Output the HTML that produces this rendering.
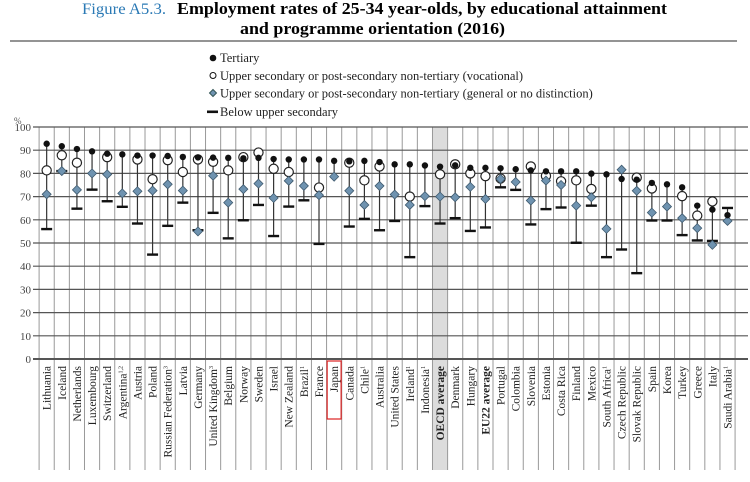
<!DOCTYPE html>
<html><head><meta charset="utf-8"><style>
body{margin:0;background:#fff;}
svg{display:block;font-family:"Liberation Serif",serif;}
</style></head><body>
<svg id="chart" width="750" height="482" viewBox="0 0 750 482">
<text x="82" y="14" font-size="16" fill="#2a79b5" textLength="84" lengthAdjust="spacingAndGlyphs">Figure A5.3.</text>
<text x="177" y="14" font-size="16.5" font-weight="bold" textLength="490" lengthAdjust="spacingAndGlyphs">Employment rates of 25-34 year-olds, by educational attainment</text>
<text x="240" y="34" font-size="16.5" font-weight="bold" textLength="265" lengthAdjust="spacingAndGlyphs">and programme orientation (2016)</text>
<line x1="10" y1="41" x2="737" y2="41" stroke="#555" stroke-width="1.3"/>
<g font-size="12.5" fill="#222">
<g><circle cx="213" cy="58" r="3.3" fill="#111"/><text x="220" y="62">Tertiary</text></g>
<g><circle cx="213" cy="75.5" r="3" fill="#fff" stroke="#111"/><text x="220" y="80">Upper secondary or post-secondary non-tertiary (vocational)</text></g>
<g><path d="M213 89.5 l3.5 3.5 l-3.5 3.5 l-3.5 -3.5z" fill="#6f93b0" stroke="#355"/><text x="220" y="97.5">Upper secondary or post-secondary non-tertiary (general or no distinction)</text></g>
<g><rect x="207" y="110.5" width="11" height="2.6" fill="#111"/><text x="220" y="116">Below upper secondary</text></g>
</g>
<text x="14" y="124" font-size="9" fill="#555">%</text>
<g id="plot"></g>
</svg>
<script>
const categories=["Lithuania","Iceland","Netherlands","Luxembourg","Switzerland","Argentina","Austria","Poland","Russian Federation","Latvia","Germany","United Kingdom","Belgium","Norway","Sweden","Israel","New Zealand","Brazil","France","Japan","Canada","Chile","Australia","United States","Ireland","Indonesia","OECD average","Denmark","Hungary","EU22 average","Portugal","Colombia","Slovenia","Estonia","Costa Rica","Finland","Mexico","South Africa","Czech Republic","Slovak Republic","Spain","Korea","Turkey","Greece","Italy","Saudi Arabia"];
const superscripts=["","","","","","1,2","","","3","","","3","","","","","","1","","","","1","","","1","1","","","","","","","","","","","","1","","","","","","","","1"];
const tertiary=[92.8,91.7,90.5,89.5,88.5,88.2,87.7,87.7,87.5,87.1,86.9,86.8,86.7,86.5,86.7,86.2,86,86,86,85.4,85.2,85.4,84.9,83.9,83.9,83.4,82.9,83.5,82.4,82.4,82.2,81.8,81.3,80.9,80.9,80.9,79.9,79.6,77.6,77.3,75.9,75.3,74,66.1,64.4,62];
const vocational=[81.3,87.8,84.6,null,87,null,86,77.5,85.7,80.6,86,85,81.3,87,89,82,80.6,null,73.9,null,84.6,77,83,null,70,null,79.6,83.9,80,78.8,77.8,null,83,78.9,76.6,77,73.3,null,null,78.2,73.5,null,70.2,61.8,67.9,null];
const general=[71,81,72.9,80,79.6,71.4,72.3,72.6,75.3,72.6,55,79,67.4,73.2,75.6,69.4,76.8,74.6,70.6,78.6,72.5,66.4,74.6,70.9,66.4,70.2,70,69.7,74.2,69,77.6,76.3,68.3,76.9,75,66.1,69.7,56.1,81.6,72.5,63.1,65.7,60.7,56.4,49.2,59.5];
const belowUpper=[56,81,64.8,73,68,65.6,58.4,45,57.4,67.4,55.5,63,52,59.8,66.4,53,65.7,68.4,49.6,null,57.1,60.4,55.5,59.5,43.9,65.9,58.4,60.7,55.2,56.7,74,72.9,58,64.6,65.3,50.1,66.1,43.9,47.2,37,59.7,59.7,53.4,51.1,50.9,65.1];
const yTicks=[0,10,20,30,40,50,60,70,80,90,100];

const NS="http://www.w3.org/2000/svg";
const plot=document.getElementById('plot');
const left=39.1,colW=15.13,y0=359,y100=127;
const x=i=>left+colW*(i+0.5);
const y=v=>y0-(v/100)*(y0-y100);
function mk(tag,attrs,parent){const e=document.createElementNS(NS,tag);for(const k in attrs)e.setAttribute(k,attrs[k]);(parent||plot).appendChild(e);return e;}
const oi=categories.indexOf("OECD average");
const shade=mk('rect',{x:left+colW*oi,y:y100,width:colW,height:470-y100,fill:'#dcdcdc'});


for(let i=0;i<=categories.length;i++){
  const l=mk('line',{x1:left+colW*i,x2:left+colW*i,y1:y100,y2:470,stroke:'#999','stroke-width':1});
  
  
}
yTicks.forEach(t=>{
  const l=mk('line',{x1:33,x2:748,y1:y(t),y2:y(t),stroke:'#555','stroke-width':t===0?2:1.2});
  
  
  const tx=mk('text',{x:31,y:y(t)+4,'text-anchor':'end','font-size':11,fill:'#444'});
  tx.textContent=t;
  
  
});
categories.forEach((c,i)=>{
  const cx=x(i);
  const vals=[tertiary[i],vocational[i],general[i],belowUpper[i]].filter(v=>v!=null);
  const g=mk('g',{});
  
  
  const rl=mk('line',{x1:cx,x2:cx,y1:y(Math.max(...vals)),y2:y(Math.min(...vals)),stroke:'#333','stroke-width':1.2},g);
  
  
  if(belowUpper[i]!=null){
    const b=mk('rect',{x:cx-5.5,y:y(belowUpper[i])-1.2,width:11,height:2.4,fill:'#111'},g);
    
    
  }
  if(vocational[i]!=null){
    const o=mk('circle',{cx:cx,cy:y(vocational[i]),r:4.6,fill:'#fff',stroke:'#222','stroke-width':1.2},g);
    
    
  }
  const d=mk('path',{d:`M${cx} ${y(general[i])-4.5} l4.5 4.5 l-4.5 4.5 l-4.5 -4.5z`,fill:'#6f93b0',stroke:'#3f5a6e','stroke-width':0.8},g);
  
  
  const t=mk('circle',{cx:cx,cy:y(tertiary[i]),r:3.2,fill:'#111'},g);
  
  
  const lab=mk('text',{x:0,y:0,transform:`translate(${cx+4},${366}) rotate(-90)`,'text-anchor':'end','font-size':11.5,fill:'#222','font-weight':(c.includes('average')?'bold':'normal')});
  lab.textContent=c;
  if(superscripts[i]){const s=mk('tspan',{'font-size':6,dy:-4},lab);s.textContent=superscripts[i];}
  
  
});
const ji=categories.indexOf("Japan");
const box=mk('rect',{x:x(ji)-7,y:361,width:14,height:58,fill:'none',stroke:'#d22','stroke-width':1.2});


</script>
</body></html>
